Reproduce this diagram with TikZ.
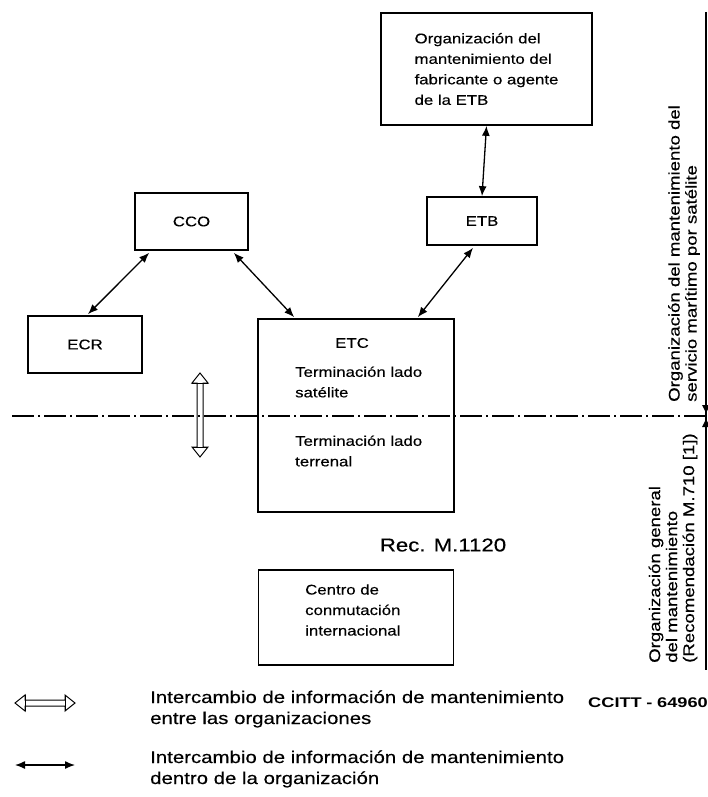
\documentclass[tikz,border=0pt]{standalone}
\usepackage{fontspec}
\setmainfont{Liberation Sans}[FakeStretch=1.2,FakeBold=0.4]
\newfontfamily\ccittfont{Liberation Sans}[FakeStretch=1.3]
\usetikzlibrary{arrows.meta,calc}
\begin{document}
\begin{tikzpicture}[x=1pt,y=-1pt,
  box/.style={draw, line width=1.7pt, inner sep=0pt},
  txt/.style={font=\fontsize{14}{20.5}\selectfont, align=left, inner sep=0pt},
  legtxt/.style={font=\fontsize{17}{21}\selectfont, align=left, inner sep=0pt},
  rtxt/.style={font=\fontsize{15.5}{17}\selectfont, align=left, inner sep=0pt, rotate=90},
  inarrow/.style={{Latex[length=10pt,width=8pt]}-{Latex[length=10pt,width=8pt]}, line width=1.3pt},
  dashdot/.style={line width=1.3pt, dash pattern=on 22pt off 4pt on 2pt off 4pt},
  openarrow/.style={line width=1pt, line join=miter}
]
\useasboundingbox (0,0) rectangle (708,797);

% boxes
\node[box, minimum width=211pt, minimum height=112pt] (org) at (486.5,69) {};
\node[box, minimum width=110pt, minimum height=48pt] (etb) at (482,221) {};
\node[box, minimum width=113pt, minimum height=57pt] (cco) at (191.5,221.5) {};
\node[box, minimum width=114pt, minimum height=57pt] (ecr) at (85,344.5) {};
\node[box, minimum width=196pt, minimum height=193pt] (etc) at (356,415.5) {};
\node[box, minimum width=195pt, minimum height=95pt] (cic) at (356,617.5) {};

% texts in boxes
\node[txt] (orgt) at (org.center) {Organización del\\mantenimiento del\\fabricante o agente\\de la ETB};
\node[txt] (etbt) at (etb.center) {ETB};
\node[txt] (ccot) at (cco.center) {CCO};
\node[txt] (ecrt) at (ecr.center) {ECR};
\node[txt] (etct) at (352,343) {ETC};
\node[txt, anchor=west] (sat) at (295,382) {Terminación lado\\satélite};
\node[txt, anchor=west] (ter) at (295,451) {Terminación lado\\terrenal};
\node[txt, anchor=west] (cict) at (305,610) {Centro de\\conmutación\\internacional};
\node[font=\fontsize{18.5}{22}\selectfont, inner sep=0pt] (rec) at (443,545) {Rec. M.1120};

% connectors
\draw[inarrow] (org.south) -- (etb.north);
\draw[inarrow] ($(cco.south west)+(15,2)$) -- ($(ecr.north)+(3,-1)$);
\draw[inarrow] ($(cco.south east)+(-15,2)$) -- ($(etc.north west)+(37,-1)$);
\draw[inarrow] ($(etb.south)+(-9,2)$) -- ($(etc.north east)+(-37,-1)$);

% dash-dot separation line
\coordinate (dl) at (12,416);
\coordinate (dr) at (706,416);
\draw[dashdot] (dl) -- (dr);

% right vertical line with markers
\coordinate (vt) at (706,12);
\coordinate (vb) at (706,670);
\draw[line width=1.3pt] (vt) -- (vb);
\fill (dr) ++(0,-3) -- ++(-4,-8) -- ++(8,0) -- cycle;
\fill (dr) ++(0,3) -- ++(-4,8) -- ++(8,0) -- cycle;

% right rotated texts
\node[rtxt, anchor=west] (upt) at (684,402) {Organización del mantenimiento del\\servicio marítimo por satélite};
\node[rtxt, anchor=west] (lot) at (673,663) {Organización general\\del mantenimiento\\(Recomendación M.710 [1])};

% double (inter-organisation) arrow, vertical
\coordinate (da) at (200,373);
\draw[openarrow] (da) -- ++(8,10) -- ++(-5,0) -- ++(0,64) -- ++(5,0) -- ++(-8,10) -- ++(-8,-10) -- ++(5,0) -- ++(0,-64) -- ++(-5,0) -- cycle;
\draw[line width=0.8pt] (192,383) -- (208,383) (192,447) -- (208,447);

% legend
\coordinate (l1) at (15,703);
\draw[openarrow] (l1) -- ++(10,-8) -- ++(0,5) -- ++(40,0) -- ++(0,-5) -- ++(10,8) -- ++(-10,8) -- ++(0,-5) -- ++(-40,0) -- ++(0,5) -- cycle;
\draw[line width=0.8pt] (25,695) -- (25,711) (65,695) -- (65,711);
\node[legtxt, anchor=west] (leg1) at (150,709) {Intercambio de información de mantenimiento\\entre las organizaciones};
\coordinate (l2a) at (15,765);
\coordinate (l2b) at (75,765);
\draw[inarrow] (l2a) -- (l2b);
\node[legtxt, anchor=west] (leg2) at (150,769) {Intercambio de información de mantenimiento\\dentro de la organización};
\node[font=\ccittfont\bfseries\fontsize{14}{16}\selectfont, anchor=east, inner sep=0pt] (ccitt) at (708,703) {CCITT\,\,-\,\,64960};
\end{tikzpicture}
\end{document}
